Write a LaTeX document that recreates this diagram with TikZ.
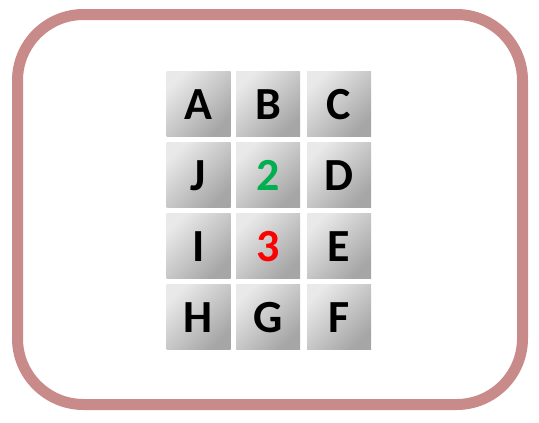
\documentclass[tikz,border=0pt]{standalone}
\usepackage{fontspec}
\setmainfont{Carlito}
\definecolor{framered}{HTML}{C98B89}
\definecolor{numgreen}{HTML}{00B050}
\tikzset{
	tile/.style={minimum width=64, minimum height=65, inner sep=0pt,
		top color=gray!17, middle color=gray!25, bottom color=gray!70, shading angle=45,
		font=\fontsize{46}{46}\selectfont\bfseries, text height=31, text depth=0pt},
	outerframe/.style={draw=framered, line width=11, rounded corners=66}
}
\begin{document}
\begin{tikzpicture}[x=1pt,y=-1pt]
\useasboundingbox (0,0) rectangle (539,423);

%Rahmen
\draw[outerframe] (17.5,14.5) rectangle (522.5,404.5);

%Kacheln
\foreach \x/\y/\name/\txt/\col in
{
198.5/103.5/A/A/black,
268/103.5/B/B/black,
339/103.5/C/C/black,
198.5/174.5/J/J/black,
268/174.5/zwei/2/numgreen,
339/174.5/D/D/black,
198.5/245.5/I/I/black,
268/245.5/drei/3/red,
339/245.5/E/E/black,
198.5/316.5/H/H/black,
268/316.5/G/G/black,
339/316.5/F/F/black%
}
{
	\node[tile, text=\col] (\name) at (\x,\y) {\txt};
}

\end{tikzpicture}
\end{document}
